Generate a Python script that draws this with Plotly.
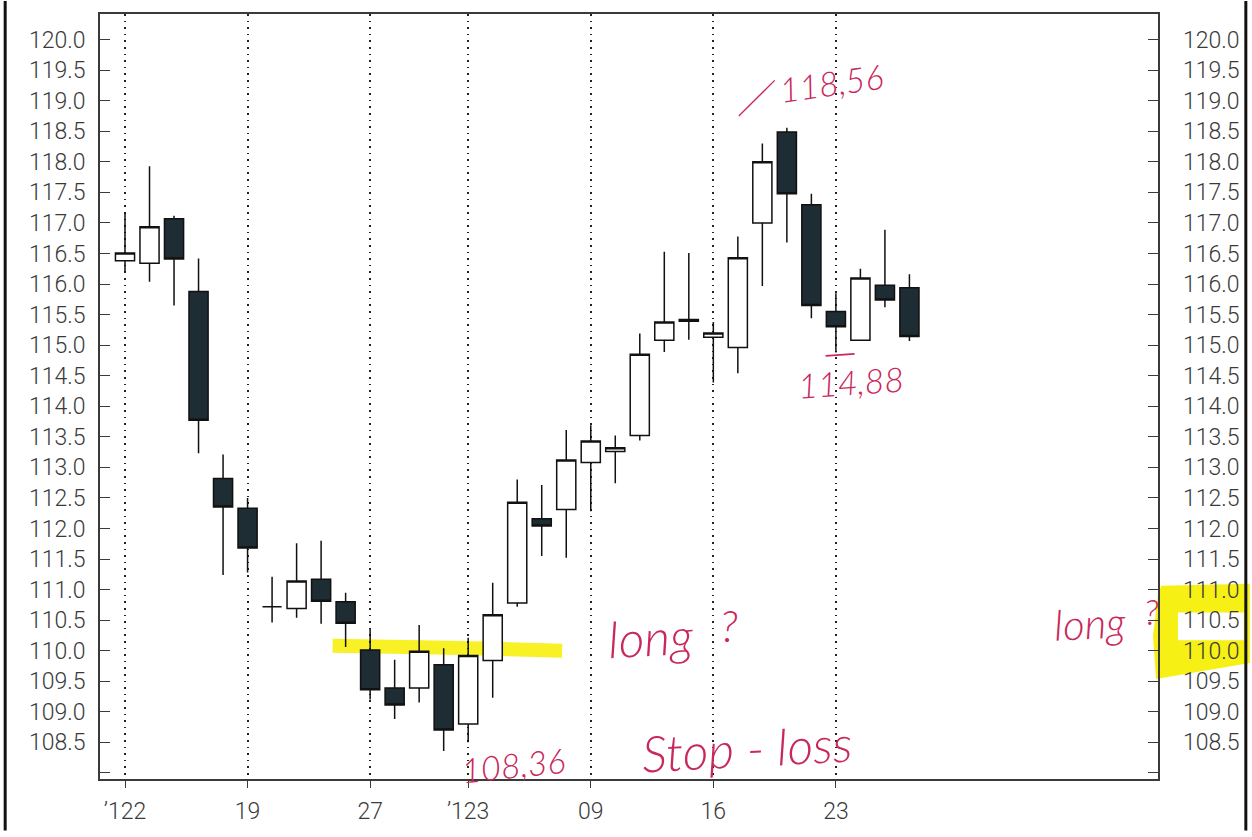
import plotly.graph_objects as go

# Daily OHLC, Dec 2022 - Jan 2023
dates = [
    "2022-12-12", "2022-12-13", "2022-12-14", "2022-12-15", "2022-12-16",
    "2022-12-19", "2022-12-20", "2022-12-21", "2022-12-22", "2022-12-23",
    "2022-12-27", "2022-12-28", "2022-12-29", "2022-12-30",
    "2023-01-02", "2023-01-03", "2023-01-04", "2023-01-05", "2023-01-06",
    "2023-01-09", "2023-01-10", "2023-01-11", "2023-01-12", "2023-01-13",
    "2023-01-16", "2023-01-17", "2023-01-18", "2023-01-19", "2023-01-20",
    "2023-01-23", "2023-01-24", "2023-01-25", "2023-01-26",
]
opens = [
    116.38, 116.34, 117.07, 115.88, 112.82,
    112.33, 110.72, 110.69, 111.17, 110.80,
    110.01, 109.39, 109.39, 109.77,
    108.80, 109.84, 110.78, 112.16, 112.31,
    113.08, 113.26, 113.52, 115.08, 115.42,
    115.13, 114.96, 117.00, 118.49, 117.30,
    115.55, 115.08, 115.98, 115.94,
]
highs = [
    117.17, 117.93, 117.12, 116.42, 113.21,
    112.50, 111.21, 111.76, 111.80, 110.95,
    110.36, 109.85, 110.42, 110.04,
    110.21, 111.11, 112.80, 112.71, 113.61,
    113.69, 113.52, 115.19, 116.53, 116.51,
    115.38, 116.78, 118.30, 118.56, 117.48,
    115.85, 116.25, 116.89, 116.16,
]
lows = [
    116.20, 116.04, 115.65, 113.23, 111.24,
    111.28, 110.46, 110.54, 110.44, 110.06,
    109.20, 108.88, 109.15, 108.36,
    108.50, 109.23, 110.72, 111.55, 111.52,
    112.28, 112.74, 113.44, 114.89, 115.09,
    114.39, 114.54, 115.97, 116.68, 115.44,
    114.88, 115.08, 115.62, 115.07,
]
closes = [
    116.51, 116.94, 116.41, 113.77, 112.35,
    111.68, 110.72, 111.14, 110.81, 110.45,
    109.36, 109.11, 109.99, 108.70,
    109.92, 110.59, 112.43, 112.04, 113.12,
    113.43, 113.32, 114.85, 115.38, 115.39,
    115.20, 116.43, 118.00, 117.48, 115.65,
    115.30, 116.10, 115.74, 115.14,
]

# Weekly markers on the time axis
week_dates = ["2022-12-12", "2022-12-19", "2022-12-27", "2023-01-02",
              "2023-01-09", "2023-01-16", "2023-01-23"]
week_labels = ["\u02bc122", "19", "27", "\u02bc123", "09", "16", "23"]

# Price scale
price_ticks = [108.0, 108.5, 109.0, 109.5, 110.0, 110.5, 111.0, 111.5,
               112.0, 112.5, 113.0, 113.5, 114.0, 114.5, 115.0, 115.5,
               116.0, 116.5, 117.0, 117.5, 118.0, 118.5, 119.0, 119.5, 120.0]
price_labels = [""] + [f"{v:.1f}" for v in price_ticks[1:]]

# Handwritten marks
note_high = "118,56"
note_low_a = "108,36"
note_low_b = "114,88"
note_stop = "Stop - loss"
note_long = "long"

W, H = 1252, 837
ML, MR, MT, MB = 100, 92, 13, 52
PW, PH = W - ML - MR, H - MT - MB


def px(x):
    return (x - ML) / PW


def py(y):
    return (H - MB - y) / PH


INK = "#c8285a"
TEXT = "#3a3a3a"
AXIS_FONT = dict(family="Roboto, Liberation Sans, sans-serif", size=23,
                 color=TEXT, weight=300)
HAND_FONT = dict(family="Lato, sans-serif", size=34, color=INK, style="italic", weight=300)

fig = go.Figure()
fig.add_trace(go.Candlestick(
    x=dates, open=opens, high=highs, low=lows, close=closes,
    increasing=dict(line=dict(color="#111111", width=1.5), fillcolor="#ffffff"),
    decreasing=dict(line=dict(color="#111111", width=1.5), fillcolor="#1e2c33"),
    whiskerwidth=0,
    hoverinfo="skip",
    showlegend=False,
))
# carries the right-hand price scale
fig.add_trace(go.Scatter(
    x=dates, y=closes, yaxis="y2", mode="markers",
    marker=dict(opacity=0), hoverinfo="skip", showlegend=False,
))

shapes = []
# yellow highlighter stroke near 110
shapes.append(dict(
    type="path", xref="paper", yref="y", layer="between",
    path=f"M {px(333)} 110.08 L {px(450)} 110.05 L {px(563)} 110.0",
    line=dict(color="rgba(246,240,20,0.92)", width=14),
))
# highlighted block around the right-hand 110-111 labels
shapes.append(dict(
    type="path", xref="paper", yref="paper", layer="below",
    path=(f"M {px(1163)} {py(590)} L {px(1252)} {py(588)} L {px(1252)} {py(668)} "
          f"L {px(1158)} {py(684)} L {px(1155)} {py(640)} L {px(1160)} {py(600)} Z"),
    fillcolor="rgba(246,240,20,1)", line=dict(width=0),
))
shapes.append(dict(
    type="rect", xref="paper", yref="paper", layer="below",
    x0=px(1180), x1=px(1246), y0=py(645), y1=py(617),
    fillcolor="#ffffff", line=dict(width=0),
))
# pen strokes
shapes.append(dict(
    type="line", xref="paper", yref="paper",
    x0=px(740), y0=py(116), x1=px(776), y1=py(80),
    line=dict(color=INK, width=1.3),
))
shapes.append(dict(
    type="line", xref="paper", yref="paper",
    x0=px(827), y0=py(358), x1=px(856), y1=py(356),
    line=dict(color=INK, width=1.6),
))
# page edges of the printout
for ex in (5, 1248):
    shapes.append(dict(
        type="line", xref="paper", yref="paper",
        x0=px(ex), x1=px(ex), y0=py(H), y1=py(0),
        line=dict(color="#111111", width=3),
    ))

annotations = [
    dict(text=note_high, x=px(832), y=py(82), textangle=-8),
    dict(text=note_low_b, x=px(852), y=py(384), textangle=-4),
    dict(text=note_low_a, x=px(514), y=py(770), textangle=-6),
    dict(text=note_stop, x=px(748), y=py(754), textangle=-3,
         font=dict(HAND_FONT, size=50)),
    dict(text=note_long, x=px(652), y=py(642), textangle=-3,
         font=dict(HAND_FONT, size=50)),
    dict(text="?", x=px(730), y=py(630), font=dict(HAND_FONT, size=44)),
    dict(text=note_long, x=px(1092), y=py(628), textangle=-3,
         font=dict(HAND_FONT, size=42)),
    dict(text="?", x=px(1153), y=py(615), font=dict(HAND_FONT, size=36)),
]
for a in annotations:
    a.setdefault("font", HAND_FONT)
    a.update(xref="paper", yref="paper", showarrow=False,
             xanchor="center", yanchor="middle")

y_common = dict(
    range=[107.9, 120.42], tickvals=price_ticks, ticktext=price_labels,
    ticks="inside", ticklen=10, tickwidth=1.3, tickcolor=TEXT,
    showgrid=False, zeroline=False, tickfont=AXIS_FONT, fixedrange=True,
)

fig.update_layout(
    width=W, height=H, autosize=False,
    margin=dict(l=ML, r=MR, t=MT, b=MB, pad=0),
    paper_bgcolor="#ffffff", plot_bgcolor="#ffffff",
    boxgap=0.22, boxgroupgap=0,
    showlegend=False,
    xaxis=dict(
        type="category", range=[-1.02, 42.14],
        tickvals=week_dates, ticktext=week_labels,
        showgrid=True, gridcolor="#222222", griddash="1.6px,5px", gridwidth=1.6,
        showline=True, linecolor=TEXT, linewidth=1.5, mirror=True,
        ticks="outside", ticklen=7, tickwidth=1.3, tickcolor=TEXT,
        ticklabelstandoff=4,
        tickfont=AXIS_FONT, rangeslider=dict(visible=False), zeroline=False,
    ),
    yaxis=dict(y_common, side="left", showline=True, linecolor=TEXT,
               linewidth=1.5, mirror=True, ticklabelstandoff=8),
    yaxis2=dict(y_common, side="right", overlaying="y", showline=False,
                ticklabelstandoff=24),
    shapes=shapes,
    annotations=annotations,
)

fig.write_html("out.html")
